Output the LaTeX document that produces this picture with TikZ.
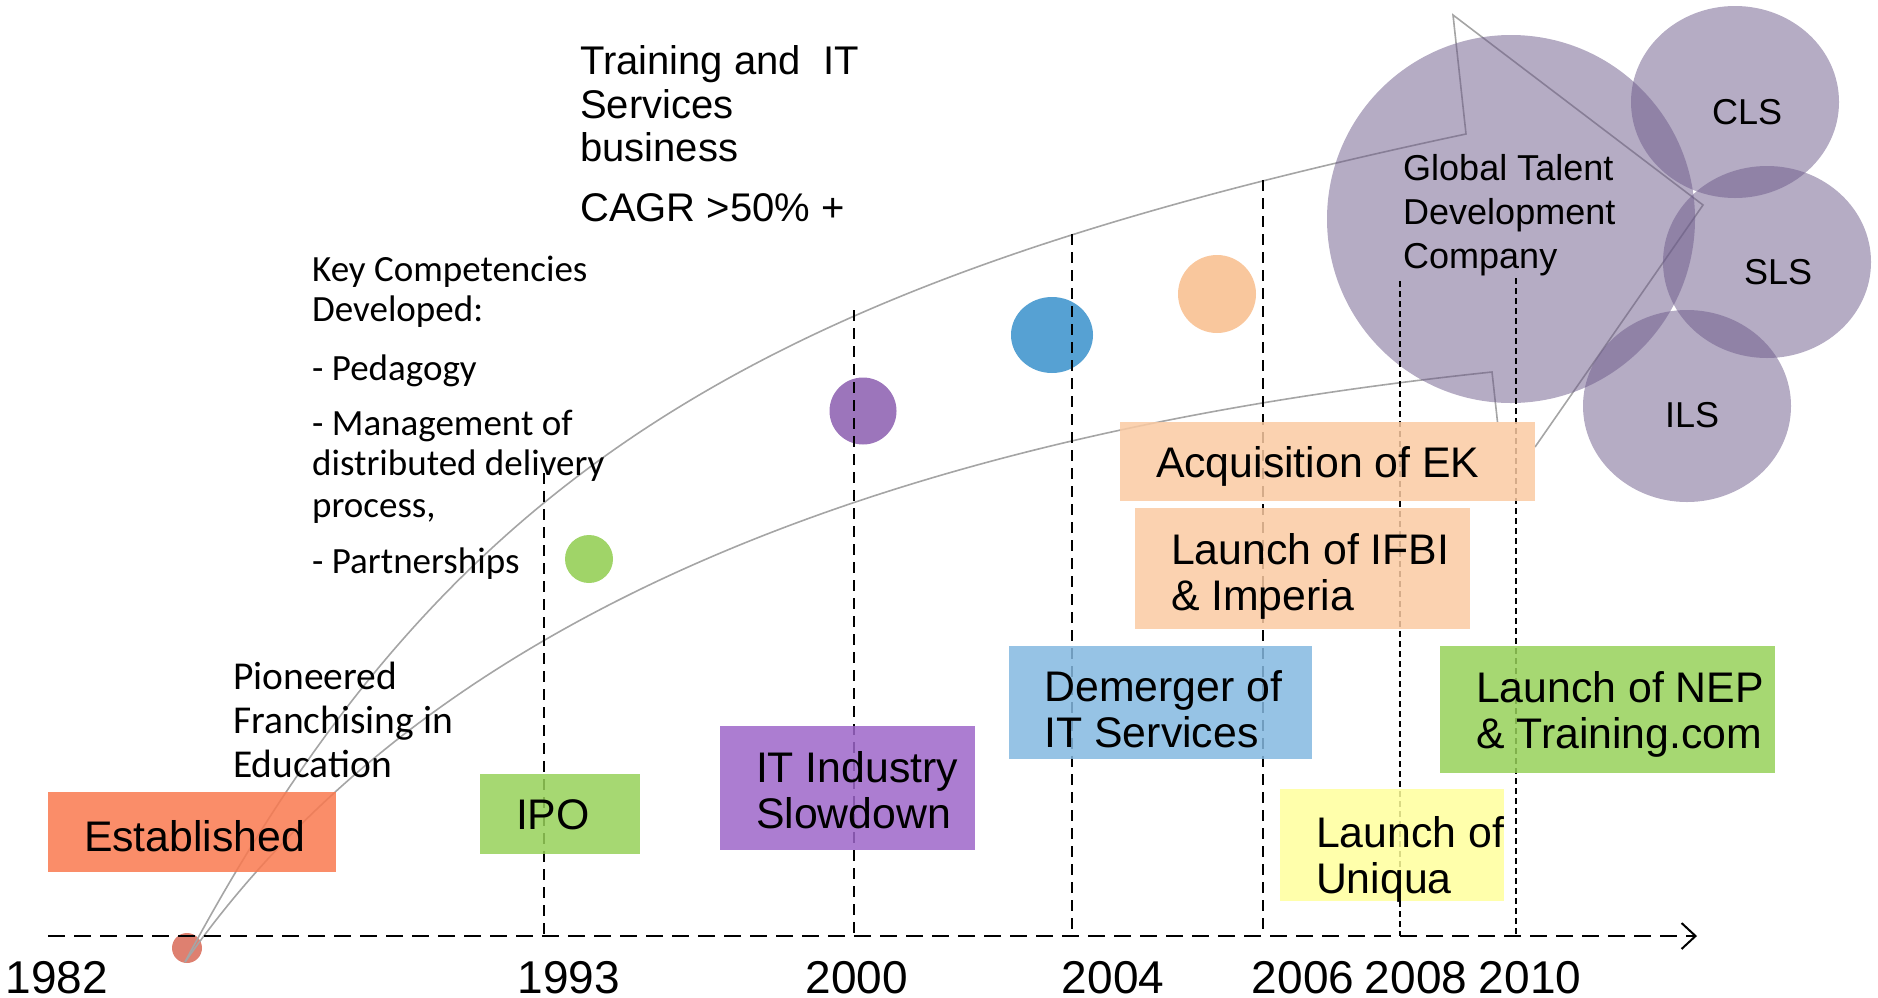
\documentclass[tikz,border=0pt]{standalone}
\usepackage{fontspec}
\setmainfont{Liberation Sans}
\newfontfamily\calfont{Carlito}
\usetikzlibrary{positioning,shapes.geometric,arrows.meta}

\definecolor{estred}{RGB}{249,121,79}
\definecolor{ipogreen}{RGB}{151,209,89}
\definecolor{slowpurple}{RGB}{157,102,201}
\definecolor{demblue}{RGB}{132,184,224}
\definecolor{ekpeach}{RGB}{250,202,162}
\definecolor{uniyellow}{RGB}{255,255,156}
\definecolor{gtdcpurple}{RGB}{107,89,137}
\definecolor{dotred}{RGB}{222,128,112}
\definecolor{dotgreen}{RGB}{160,212,104}
\definecolor{dotpurple}{RGB}{156,117,187}
\definecolor{dotblue}{RGB}{86,161,211}
\definecolor{dotpeach}{RGB}{249,199,157}
\definecolor{outlinegray}{RGB}{165,165,165}

\tikzset{
  evbox/.style={rectangle, inner sep=0pt, fill opacity=0.85, text opacity=1},
  evtext/.style={inner sep=0pt, align=left, font=\fontsize{42.8}{46}\selectfont},
  yeartext/.style={inner sep=0pt, anchor=base, font=\fontsize{46}{50}\selectfont},
  bigtext/.style={inner sep=0pt, anchor=base west, font=\fontsize{40}{44}\selectfont},
  caltext/.style={inner sep=0pt, anchor=base west, font=\calfont\fontsize{37}{40}\selectfont},
  pioneertext/.style={inner sep=0pt, anchor=base west, font=\calfont\fontsize{39.5}{44}\selectfont},
  circtext/.style={inner sep=0pt, font=\fontsize{36}{40}\selectfont},
  bubble/.style={ellipse, inner sep=0pt, fill=gtdcpurple, fill opacity=0.5},
  dot/.style={ellipse, inner sep=0pt},
  yearline/.style={line width=2.6pt, dash pattern=on 11pt off 7pt},
  thinline/.style={line width=1.3pt, dash pattern=on 6pt off 4pt},
  axisline/.style={line width=2.6pt, dash pattern=on 17pt off 9pt},
  arrowline/.style={draw=outlinegray, line width=1.6pt}
}

\begin{document}
\begin{tikzpicture}[x=1pt, y=-1pt]
    \useasboundingbox (0,0) rectangle (1878,997);

    % growth arrow (its lower corner sits behind the EK box)
    \node[dot, fill=dotred, minimum width=30pt, minimum height=30pt] (d1982) at (187,948) {};
    \coordinate (tail) at (185,962);
    \coordinate (upperend) at (1466,134);
    \coordinate (lowerend) at (1492,372);
    \coordinate (headtop) at (1453,15);
    \coordinate (headtip) at (1703,205);
    \draw[arrowline] (tail) .. controls (453,460) and (774,281) .. (upperend)
        -- (headtop) -- (headtip) -- (1535,447);
    \draw[arrowline] (1497.5,422) -- (lowerend)
        .. controls (845,440) and (414,635) .. (tail);

    % bubbles
    \node[bubble, minimum width=368pt, minimum height=368pt] (gtdc) at (1511,219) {};
    \node[bubble, minimum width=208pt, minimum height=192pt] (cls) at (1735,102) {};
    \node[bubble, minimum width=208pt, minimum height=192pt] (sls) at (1767,262) {};
    \node[bubble, minimum width=208pt, minimum height=192pt] (ils) at (1687,406) {};

    \node[dot, fill=dotgreen, minimum width=48pt, minimum height=48pt] (d1993) at (589,559) {};
    \node[dot, fill=dotpurple, minimum width=67pt, minimum height=67pt] (d2000) at (863,411) {};
    \node[dot, fill=dotblue, minimum width=82pt, minimum height=76pt] (d2004) at (1052,335) {};
    \node[dot, fill=dotpeach, minimum width=78pt, minimum height=78pt] (d2006) at (1217,294) {};

    % timeline
    \draw[yearline] (544,473) -- (544,936);
    \draw[yearline] (854,310) -- (854,936);
    \draw[yearline] (1072,234) -- (1072,936);
    \draw[yearline] (1263,180) -- (1263,936);
    \draw[thinline] (1400,281) -- (1400,936);
    \draw[thinline] (1516,278) -- (1516,936);
    \coordinate (axisstart) at (48,936);
    \coordinate (axisend) at (1697,936);
    \draw[axisline, -{Straight Barb[length=14pt,width=26pt,line width=2pt]}] (axisstart) -- (axisend);

    \node[yeartext] (y1982) at (57,993) {1982};
    \node[yeartext] (y1993) at (569,993) {1993};
    \node[yeartext] (y2000) at (857,993) {2000};
    \node[yeartext] (y2004) at (1113,993) {2004};
    \node[yeartext] (y2006) at (1303,993) {2006};
    \node[yeartext] (y2008) at (1416,993) {2008};
    \node[yeartext] (y2010) at (1530,993) {2010};

    % events
    \node[evbox, fill=estred, minimum width=288pt, minimum height=80pt] (established) at (192,832) {};
    \node[evbox, fill=ipogreen, minimum width=160pt, minimum height=80pt] (ipo) at (560,814) {};
    \node[evbox, fill=slowpurple, minimum width=255pt, minimum height=124pt] (slowdown) at (847.5,788) {};
    \node[evbox, fill=demblue, minimum width=303pt, minimum height=113pt] (demerger) at (1160,702.5) {};
    \node[evbox, fill=ekpeach, minimum width=415pt, minimum height=79pt] (ek) at (1327.5,461.5) {};
    \node[evbox, fill=ekpeach, minimum width=335pt, minimum height=121pt] (ifbi) at (1302.5,568.5) {};
    \node[evbox, fill=uniyellow, minimum width=224pt, minimum height=112pt] (uniqua) at (1392,845) {};
    \node[evbox, fill=ipogreen, minimum width=335pt, minimum height=127pt] (nep) at (1607.5,709.5) {};

    \node[evtext, right=36pt of established.west, yshift=-4pt] (established text) {Established};
    \node[evtext, right=36pt of ipo.west, yshift=-1pt] (ipo text) {IPO};
    \node[evtext, right=36pt of slowdown.west, yshift=-2pt] (slowdown text) {IT Industry\\Slowdown};
    \node[evtext, right=36pt of demerger.west, yshift=-7pt] (demerger text) {Demerger of\\IT Services};
    \node[evtext, right=36pt of ek.west, yshift=-5pt] (ek text) {Acquisition of EK};
    \node[evtext, right=36pt of ifbi.west, yshift=-8pt] (ifbi text) {Launch of IFBI\\\& Imperia};
    \node[evtext, right=36pt of uniqua.west, yshift=-14pt] (uniqua text) {Launch of\\Uniqua};
    \node[evtext, right=36pt of nep.west, yshift=-5pt] (nep text) {Launch of NEP\\\& Training.com};

    % notes
    \node[pioneertext] (pio1) at (233,689) {Pioneered};
    \node[pioneertext] (pio2) at (233,733) {Franchising in};
    \node[pioneertext] (pio3) at (233,777) {Education};

    \node[caltext] (key1) at (312,281) {Key Competencies};
    \node[caltext] (key2) at (312,321) {Developed:};
    \node[caltext] (key3) at (312,380) {- Pedagogy};
    \node[caltext] (key4) at (312,435) {- Management of};
    \node[caltext] (key5) at (312,475) {distributed delivery};
    \node[caltext] (key6) at (312,517) {process,};
    \node[caltext] (key7) at (312,573) {- Partnerships};

    \node[bigtext] (train1) at (580,74) {Training and\ \ IT};
    \node[bigtext] (train2) at (580,118) {Services};
    \node[bigtext] (train3) at (580,161) {business};
    \node[bigtext] (cagr) at (580,221) {CAGR >50\% +};

    \node[circtext, anchor=base west] (gtdc1) at (1403,180) {Global Talent};
    \node[circtext, anchor=base west] (gtdc2) at (1403,224) {Development};
    \node[circtext, anchor=base west] (gtdc3) at (1403,268) {Company};
    \node[circtext] (cls text) at (1747,112) {CLS};
    \node[circtext] (sls text) at (1778,272) {SLS};
    \node[circtext] (ils text) at (1692,415) {ILS};
\end{tikzpicture}
\end{document}
